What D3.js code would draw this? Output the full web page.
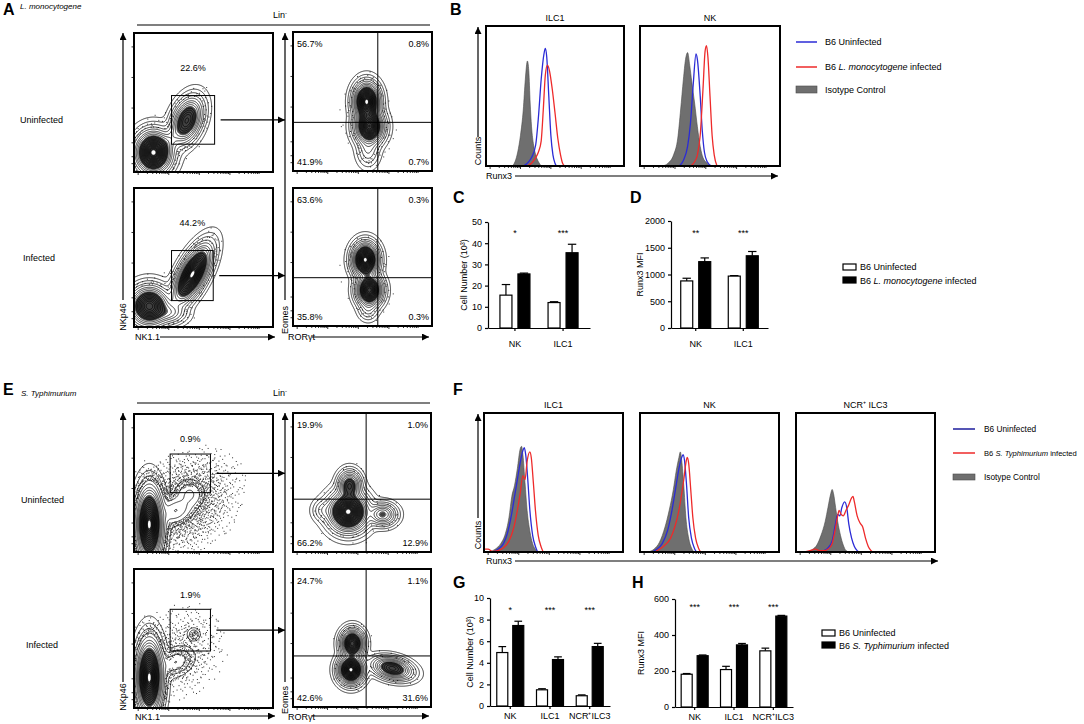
<!DOCTYPE html>
<html lang="en">
<head>
<meta charset="utf-8">
<title>Runx3 in ILC subsets after infection</title>
<script src="https://cdnjs.cloudflare.com/ajax/libs/d3/7.8.5/d3.min.js"></script>
<style>
  body {margin: 0; background: #fff;}
  svg {display: block; font-family: "Liberation Sans", Arial, sans-serif;}
</style>
</head>
<body>
<svg width="1084" height="724"></svg>
<script>
// ---------- data ----------
// flow populations: x/y in axis units (0-1), s = spread, r = correlation, w = relative weight
var aUninfNk = [{x:0.14,y:0.14,sx:0.065,sy:0.075,r:0,w:1},{x:0.38,y:0.37,sx:0.055,sy:0.08,r:0.35,w:0.6},{x:0.26,y:0.24,sx:0.04,sy:0.05,r:0.5,w:0.06}];
var aInfNk = [{x:0.11,y:0.15,sx:0.07,sy:0.07,r:0,w:0.8},{x:0.42,y:0.38,sx:0.065,sy:0.1,r:0.65,w:1},{x:0.26,y:0.1,sx:0.06,sy:0.04,r:0,w:0.15}];
var aUninfEomes = [{x:0.53,y:0.5,sx:0.045,sy:0.065,r:0,w:1},{x:0.55,y:0.32,sx:0.05,sy:0.06,r:0,w:0.9},{x:0.54,y:0.15,sx:0.04,sy:0.06,r:0,w:0.08}];
var aInfEomes = [{x:0.52,y:0.48,sx:0.045,sy:0.06,r:0,w:1},{x:0.55,y:0.26,sx:0.045,sy:0.055,r:0,w:0.9},{x:0.54,y:0.12,sx:0.035,sy:0.04,r:0,w:0.06}];
var eUninfNk = [{x:0.11,y:0.2,sx:0.045,sy:0.13,r:0,w:1},{x:0.3,y:0.3,sx:0.06,sy:0.05,r:0.3,w:0.05},{x:0.4,y:0.42,sx:0.05,sy:0.05,r:0,w:0.03}];
var eInfNk = [{x:0.11,y:0.22,sx:0.045,sy:0.13,r:0,w:1},{x:0.3,y:0.33,sx:0.06,sy:0.05,r:0.3,w:0.05},{x:0.43,y:0.53,sx:0.022,sy:0.022,r:0,w:0.03}];
var eUninfEomes = [{x:0.4,y:0.29,sx:0.07,sy:0.07,r:0,w:1},{x:0.41,y:0.48,sx:0.04,sy:0.05,r:0,w:0.45},{x:0.65,y:0.27,sx:0.05,sy:0.04,r:0,w:0.3},{x:0.22,y:0.3,sx:0.04,sy:0.04,r:0,w:0.06}];
var eInfEomes = [{x:0.43,y:0.46,sx:0.04,sy:0.05,r:0,w:0.8},{x:0.42,y:0.27,sx:0.045,sy:0.05,r:0,w:1},{x:0.72,y:0.28,sx:0.07,sy:0.04,r:-0.3,w:0.55}];
// sparse events (outliers)
var aCloud = [{x:0.3,y:0.28,sx:0.12,sy:0.12,r:0.5,w:0.01}];
var eomesCloud = [{x:0.52,y:0.36,sx:0.12,sy:0.16,r:0,w:0.008}];
var eUninfCloud = [{x:0.35,y:0.35,sx:0.18,sy:0.17,r:0.3,w:0.06}];
var eInfCloud = [{x:0.33,y:0.4,sx:0.15,sy:0.16,r:0.2,w:0.03}];

// gates [x0, x1, y0, y1] and percentages
var aUninfGate = [0.27, 0.58, 0.2, 0.55], aInfGate = [0.27, 0.57, 0.19, 0.55];
var eUninfGate = [0.26, 0.55, 0.43, 0.71], eInfGate = [0.26, 0.55, 0.41, 0.71];
var gatePct = ['22.6%', '44.2%', '0.9%', '1.9%'];
var quadA = [0.61, 0.35], quadE1 = [0.53, 0.38], quadE2 = [0.53, 0.37];
// quadrant % : [top-left, top-right, bottom-left, bottom-right]
var aUninfQuad = ['56.7%', '0.8%', '41.9%', '0.7%'];
var aInfQuad = ['63.6%', '0.3%', '35.8%', '0.3%'];
var eUninfQuad = ['19.9%', '1.0%', '66.2%', '12.9%'];
var eInfQuad = ['24.7%', '1.1%', '42.6%', '31.6%'];

// histograms: [Runx3 channel 0-100, % of max count]
var bIlc1Iso = [[19,0],[21,3],[23,10],[25,22],[27,40],[28.5,62],[30,75],[31,68],[32,45],[33,28],[34.5,15],[36,8],[38,3],[40,0]];
var bIlc1Uninf = [[27,0],[30,2],[33,6],[36,15],[38,35],[40,62],[42,80],[43,84],[44,78],[45.5,50],[47,22],[48.5,8],[50,2],[51,0]];
var bIlc1Inf = [[30,0],[33,2],[36,6],[38,10],[40,18],[41.5,40],[43,65],[44.5,72],[46,68],[48,55],[50,38],[52,20],[54,8],[55.5,2],[57,0]];
var bNkIso = [[16,0],[20,2],[24,8],[27,20],[29,40],[31,62],[32.5,76],[34,81],[35.5,72],[37,60],[39,45],[41,28],[43,14],[45,6],[48,2],[51,0]];
var bNkUninf = [[28,0],[31,4],[34,14],[36,30],[38,58],[40,80],[41,76],[43,50],[44.5,25],[46,10],[48,3],[51,0]];
var bNkInf = [[36,0],[39,3],[41,8],[43,22],[45,55],[46.5,82],[47.5,86],[48.5,78],[50,50],[51.5,22],[53,8],[55,0]];
var fIlc1Iso = [[4,0],[8,2],[12,6],[15,12],[18,25],[20,40],[22,48],[24,60],[26,74],[27,76],[28,70],[29.5,50],[31,30],[33,15],[35,6],[37,2],[39,0]];
var fIlc1Uninf = [[0,0],[6,0],[10,2],[14,6],[17,14],[20,28],[22,40],[24,52],[26,64],[28,73],[29,75],[30,70],[31.5,52],[33,30],[35,12],[37,4],[39,0],[100,0]];
var fIlc1Inf = [[0,2],[3,2],[6,0.5],[10,1],[14,3],[18,8],[21,16],[24,30],[26,42],[28,55],[29.5,52],[31,65],[33,72],[34,68],[35.5,50],[37,30],[39,12],[41,4],[43,0],[100,0]];
var fNkIso = [[6,0],[10,2],[14,7],[18,18],[21,30],[24,45],[26,58],[28,68],[29,72],[30,66],[31.5,48],[33,25],[35,10],[37,3],[39,0]];
var fNkUninf = [[0,0],[8,0],[12,2],[16,6],[20,16],[23,30],[26,48],[28,60],[30,68],[31,70],[32,66],[33.5,48],[35,25],[37,10],[39,3],[41,0],[100,0]];
var fNkInf = [[0,0],[10,0],[14,2],[18,5],[22,10],[25,18],[28,30],[30,42],[31.5,52],[33,64],[34,68],[35,64],[36.5,45],[38,25],[40,10],[42,3],[44,0],[100,0]];
var fIlc3Iso = [[8,0],[12,2],[15,5],[18,12],[21,22],[23,32],[25,42],[26,45],[27,42],[28.5,32],[30,22],[32,12],[34,5],[36,1],[38,0]];
var fIlc3Uninf = [[0,0],[16,0],[20,1],[23,3],[26,8],[28,18],[30,27],[31.5,26],[33,32],[35,36],[36.5,32],[38,20],[40,10],[42,4],[44,1],[46,0],[100,0]];
var fIlc3Inf = [[0,0],[6,0],[10,1],[14,2],[17,1],[20,1],[23,2],[26,6],[28,15],[30,26],[31,30],[32.5,27],[34,26],[36,30],[38,34],[40,39],[41,40],[42,36],[44,26],[46,21],[48,18],[50,10],[52,4],[54,1],[56,0],[100,0]];

// bar charts: per group [B6 uninfected, B6 infected]
var cdGroups = ['NK', 'ILC1'];
var cellNumC = [[15.5, 25.5], [12, 35.5]], cellNumCErr = [[5, 0.4], [0.4, 4]];
var mfiD = [[880, 1240], [970, 1350]], mfiDErr = [[50, 70], [10, 80]];
var sigC = ['*', '***'], sigD = ['**', '***'];
var ghGroups = ['NK', 'ILC1', 'NCR\u207AILC3'];
var cellNumG = [[4.95, 7.45], [1.5, 4.3], [0.95, 5.5]], cellNumGErr = [[0.55, 0.4], [0.1, 0.25], [0.08, 0.3]];
var mfiH = [[182, 285], [208, 345], [312, 505]], mfiHErr = [[4, 4], [18, 8], [15, 4]];
var sigG = ['*', '***', '***'], sigH = ['***', '***', '***'];

// ---------- drawing ----------
var BLUE = '#2b2bd6', RED = '#ee2a2a', GRAY = '#6f6f6f';
var svg = d3.select('svg');
svg.append('defs').append('marker').attr('id', 'head')
    .attr('viewBox', '0 0 10 10').attr('refX', 10).attr('refY', 5)
    .attr('markerUnits', 'userSpaceOnUse').attr('markerWidth', 9).attr('markerHeight', 7)
    .attr('orient', 'auto')
    .append('path').attr('d', 'M0,0L10,5L0,10Z').attr('fill', '#000');

function txt(x, y, s, size, anchor) {
    return svg.append('text').attr('x', x).attr('y', y).attr('font-size', size || 9)
        .attr('text-anchor', anchor || 'start').text(s);
}
function arrow(x1, y1, x2, y2, sw) {
    svg.append('line').attr('x1', x1).attr('y1', y1).attr('x2', x2).attr('y2', y2)
        .attr('stroke', '#000').attr('stroke-width', sw || 1.2).attr('marker-end', 'url(#head)');
}
function vtext(x, y, s) {
    svg.append('text').attr('transform', 'translate(' + x + ',' + y + ') rotate(-90)')
        .attr('font-size', 9).attr('text-anchor', 'middle').text(s);
}

function dens(blobs, fx, fy) {
    var v = 0;
    blobs.forEach(function(b) {
        var dx = (fx - b.x) / b.sx, dy = (fy - b.y) / b.sy;
        var q = (dx * dx - 2 * b.r * dx * dy + dy * dy) / (1 - b.r * b.r);
        v += b.w * Math.exp(-q / 2);
    });
    return v;
}
function halton(i, b) {
    var f = 1, r = 0;
    while (i > 0) { f /= b; r += f * (i % b); i = Math.floor(i / b); }
    return r;
}
// contour levels spaced evenly in radius (sigma units)
var radii = [3.4, 3.0, 2.7, 2.45, 2.25, 2.05, 1.9, 1.75, 1.62, 1.5, 1.38, 1.26, 1.15, 1.04, 0.94, 0.84, 0.74, 0.64, 0.54, 0.44, 0.34];
var levels = radii.map(function(r) { return Math.exp(-r * r / 2); });
var coreLevel = Math.exp(-1.6 * 1.6 / 2), holeLevel = Math.exp(-0.22 * 0.22 / 2);

function logTicks(g, w, h, left) {
    var x = d3.scaleLinear().domain([0, 1]).range([0, w]);
    var pos = [];
    [0.03, 0.25, 0.47, 0.69].forEach(function(d) {
        for (var m = 1; m < 10; m++) pos.push(d + Math.log10(m) * 0.22);
    });
    g.selectAll(null).data(pos.filter(function(p) { return p < 1; })).join('line')
        .attr('x1', function(d) { return x(d); }).attr('x2', function(d) { return x(d); })
        .attr('y1', h).attr('y2', function(d, i) { return h + (i % 9 === 0 ? 3 : 2); })
        .attr('stroke', '#000').attr('stroke-width', 0.8);
    if (left) {
        var y = d3.scaleLinear().domain([0, 1]).range([h, 0]);
        g.selectAll(null).data([0.06, 0.11, 0.21, 0.46, 0.68, 0.9]).join('line')
            .attr('x1', 0).attr('x2', -2.5)
            .attr('y1', function(d) { return y(d); }).attr('y2', function(d) { return y(d); })
            .attr('stroke', '#000').attr('stroke-width', 0.8);
    }
}

function flowPlot(x0, y0, w, h, blobs, cloud, nDots) {
    var g = svg.append('g').attr('transform', 'translate(' + x0 + ',' + y0 + ')');
    var sx = d3.scaleLinear().domain([0, 1]).range([0, w]);
    var sy = d3.scaleLinear().domain([0, 1]).range([h, 0]);
    var nx = Math.round(w), ny = Math.round(h);
    var vals = new Float64Array(nx * ny);
    for (var j = 0; j < ny; j++) {
        for (var i = 0; i < nx; i++) {
            vals[j * nx + i] = dens(blobs, sx.invert(i + 0.5), sy.invert(j + 0.5));
        }
    }
    var mx = d3.max(vals);
    // outlier events
    var dots = [];
    for (var k = 1; k <= nDots; k++) {
        var u = halton(k, 2), v = halton(k, 3), t = halton(k, 5);
        var p = (dens(blobs, u, v) + dens(cloud, u, v)) / mx;
        if (p > 0.002 && p < 0.06 && t < p * 22) dots.push([u, v]);
    }
    g.selectAll(null).data(dots).join('rect')
        .attr('x', function(d) { return sx(d[0]); }).attr('y', function(d) { return sy(d[1]); })
        .attr('width', 1).attr('height', 1).attr('fill', '#333');
    var contour = d3.contours().size([nx, ny]);
    var path = d3.geoPath();
    // dense core and its small empty centre
    g.append('path').attr('d', path(contour.contour(vals, coreLevel * mx))).attr('fill', '#111').attr('fill-opacity', 0.8);
    var cs = contour.thresholds(levels.map(function(l) { return l * mx; }))(vals);
    g.append('g').selectAll('path').data(cs).join('path')
        .attr('d', path).attr('fill', 'none').attr('stroke', '#000').attr('stroke-width', 0.75);
    g.append('path').attr('d', path(contour.contour(vals, holeLevel * mx))).attr('fill', '#fff');
    logTicks(g, w, h, true);
    g.append('rect').attr('width', w).attr('height', h).attr('fill', 'none')
        .attr('stroke', '#000').attr('stroke-width', 2);
    return {g: g, x: sx, y: sy, w: w, h: h};
}

function gatePlot(p, gate, pct, pctY, targetX) {
    p.g.append('rect').attr('x', p.x(gate[0])).attr('y', p.y(gate[3]))
        .attr('width', p.x(gate[1]) - p.x(gate[0])).attr('height', p.y(gate[2]) - p.y(gate[3]))
        .attr('fill', 'none').attr('stroke', '#000').attr('stroke-width', 1);
    p.g.append('text').attr('x', p.x((gate[0] + gate[1]) / 2)).attr('y', p.y(pctY))
        .attr('font-size', 9).attr('text-anchor', 'middle').text(pct);
    var t = p.g.node().transform.baseVal[0].matrix;
    var ay = t.f + p.y((gate[2] + gate[3]) / 2);
    arrow(t.e + p.x(gate[1]) + 6, ay, targetX, ay, 1.2);
}

function quadPlot(p, q, pcts) {
    p.g.append('line').attr('x1', p.x(q[0])).attr('x2', p.x(q[0])).attr('y1', 0).attr('y2', p.h)
        .attr('stroke', '#000').attr('stroke-width', 1);
    p.g.append('line').attr('x1', 0).attr('x2', p.w).attr('y1', p.y(q[1])).attr('y2', p.y(q[1]))
        .attr('stroke', '#000').attr('stroke-width', 1);
    var pos = [[4, 15, 'start'], [p.w - 3, 15, 'end'], [4, p.h - 6, 'start'], [p.w - 3, p.h - 6, 'end']];
    pcts.forEach(function(s, i) {
        p.g.append('text').attr('x', pos[i][0]).attr('y', pos[i][1]).attr('font-size', 9)
            .attr('text-anchor', pos[i][2]).text(s);
    });
}

function histPlot(x0, y0, w, h, title, iso, uninf, inf) {
    var g = svg.append('g').attr('transform', 'translate(' + x0 + ',' + y0 + ')');
    var x = d3.scaleLinear().domain([0, 100]).range([0, w]);
    var y = d3.scaleLinear().domain([0, 100]).range([h, 0]);
    var area = d3.area().x(function(d) { return x(d[0]); }).y0(h)
        .y1(function(d) { return y(d[1]); }).curve(d3.curveMonotoneX);
    var line = d3.line().x(function(d) { return x(d[0]); })
        .y(function(d) { return y(d[1]); }).curve(d3.curveMonotoneX);
    g.append('path').datum(iso).attr('d', area).attr('fill', GRAY)
        .attr('stroke', '#4a4a4a').attr('stroke-width', 0.6);
    g.append('path').datum(uninf).attr('d', line).attr('fill', 'none')
        .attr('stroke', BLUE).attr('stroke-width', 1.3);
    g.append('path').datum(inf).attr('d', line).attr('fill', 'none')
        .attr('stroke', RED).attr('stroke-width', 1.3);
    logTicks(g, w, h, false);
    g.append('rect').attr('width', w).attr('height', h).attr('fill', 'none')
        .attr('stroke', '#000').attr('stroke-width', 2);
    g.append('text').attr('x', w / 2).attr('y', -5).attr('font-size', 9)
        .attr('text-anchor', 'middle').text(title);
}

function barPanel(c) {
    var y = d3.scaleLinear().domain([0, c.max]).range([c.bottom, c.top]);
    var x = d3.scaleBand().domain(c.groups).range([c.left, c.right]).paddingInner(0).paddingOuter(c.outer);
    var x1 = d3.scaleBand().domain([0, 1]).range([-c.half, c.half]).paddingInner(c.gap);
    var g = svg.append('g');
    g.append('g').attr('transform', 'translate(' + c.left + ',0)')
        .call(d3.axisLeft(y).tickValues(c.ticks).tickFormat(d3.format('d')).tickSize(3).tickSizeOuter(0))
        .attr('font-size', 9).attr('font-family', null);
    g.append('g').attr('transform', 'translate(0,' + c.bottom + ')')
        .call(d3.axisBottom(x).tickSize(3).tickSizeOuter(0).tickPadding(c.pad))
        .attr('font-size', 9).attr('font-family', null);
    g.selectAll('.domain, .tick line').attr('stroke-width', 1.2);
    c.groups.forEach(function(grp, gi) {
        var cx = x(grp) + x.bandwidth() / 2;
        [0, 1].forEach(function(s) {
            var v = c.vals[gi][s], e = c.errs[gi][s];
            var bx = cx + x1(s), bw = x1.bandwidth();
            g.append('line').attr('x1', bx + bw / 2).attr('x2', bx + bw / 2)
                .attr('y1', y(v)).attr('y2', y(v + e)).attr('stroke', '#000').attr('stroke-width', 1.2);
            g.append('line').attr('x1', bx + bw * 0.15).attr('x2', bx + bw * 0.85)
                .attr('y1', y(v + e)).attr('y2', y(v + e)).attr('stroke', '#000').attr('stroke-width', 1.2);
            g.append('rect').attr('x', bx).attr('y', y(v)).attr('width', bw).attr('height', y(0) - y(v))
                .attr('fill', s ? '#000' : '#fff').attr('stroke', '#000').attr('stroke-width', 1.2);
        });
        g.append('text').attr('x', cx).attr('y', c.sigY).attr('font-size', 9)
            .attr('text-anchor', 'middle').text(c.sig[gi]);
    });
    vtext(c.labelX, (c.top + c.bottom) / 2, c.label);
}

function legendItalic(x, y, pre, it, post, size) {
    var t = txt(x, y, '', size || 9);
    t.append('tspan').text(pre);
    t.append('tspan').attr('font-style', 'italic').text(it);
    t.append('tspan').text(post);
}
function linTitle(y) {
    var t = txt(280, y, 'Lin', 9, 'middle');
    t.append('tspan').attr('font-size', 6).attr('dy', -3).text('-');
}

// ----- panel letters and titles
[['A', 3, 15], ['B', 450, 15], ['C', 453, 203], ['D', 630, 203],
 ['E', 3, 395], ['F', 453, 395], ['G', 453, 588], ['H', 632, 588]].forEach(function(d) {
    txt(d[1], d[2], d[0], 16).attr('font-weight', 'bold');
});
txt(20, 9, 'L. monocytogene', 8).attr('font-style', 'italic');
txt(21, 396, 'S. Typhimurium', 8).attr('font-style', 'italic');

// ----- panel A
linTitle(18);
svg.append('line').attr('x1', 137).attr('x2', 430).attr('y1', 25).attr('y2', 25).attr('stroke', '#000').attr('stroke-width', 1.2);
txt(20, 123, 'Uninfected');
txt(23, 261, 'Infected');
var pA1 = flowPlot(134, 33, 139, 139, aUninfNk, aCloud, 2500);
var pA2 = flowPlot(134, 188, 139, 139, aInfNk, aCloud, 2500);
var pA3 = flowPlot(293, 32, 139, 139, aUninfEomes, eomesCloud, 2500);
var pA4 = flowPlot(293, 188, 139, 138, aInfEomes, eomesCloud, 2000);
gatePlot(pA1, aUninfGate, gatePct[0], 0.73, 285);
gatePlot(pA2, aInfGate, gatePct[1], 0.73, 285);
quadPlot(pA3, quadA, aUninfQuad);
quadPlot(pA4, quadA, aInfQuad);
arrow(123, 300, 123, 33);
arrow(285, 300, 285, 33);
vtext(126, 317, 'NKp46');
vtext(288, 320, 'Eomes');
txt(135, 340, 'NK1.1');
arrow(160, 337, 275, 337);
txt(288, 340, 'ROR\u03B3t');
arrow(312, 337, 429, 337);

// ----- panel E
linTitle(396);
svg.append('line').attr('x1', 137).attr('x2', 430).attr('y1', 403).attr('y2', 403).attr('stroke', '#000').attr('stroke-width', 1.2);
txt(21, 503, 'Uninfected');
txt(26, 648, 'Infected');
var pE1 = flowPlot(134, 414, 139, 138, eUninfNk, eUninfCloud, 9000);
var pE2 = flowPlot(134, 569, 139, 139, eInfNk, eInfCloud, 7000);
var pE3 = flowPlot(293, 413, 138, 139, eUninfEomes, eomesCloud, 1500);
var pE4 = flowPlot(293, 569, 138, 138, eInfEomes, eomesCloud, 1500);
gatePlot(pE1, eUninfGate, gatePct[2], 0.8, 285);
gatePlot(pE2, eInfGate, gatePct[3], 0.79, 285);
quadPlot(pE3, quadE1, eUninfQuad);
quadPlot(pE4, quadE2, eInfQuad);
arrow(123, 682, 123, 413);
arrow(285, 682, 285, 413);
vtext(126, 697, 'NKp46');
vtext(288, 700, 'Eomes');
txt(135, 720, 'NK1.1');
arrow(160, 716, 275, 716);
txt(288, 720, 'ROR\u03B3t');
arrow(312, 716, 429, 716);

// ----- panel B
histPlot(486, 26, 138, 140, 'ILC1', bIlc1Iso, bIlc1Uninf, bIlc1Inf);
histPlot(640, 26, 140, 140, 'NK', bNkIso, bNkUninf, bNkInf);
arrow(478, 137, 478, 27);
vtext(481, 151, 'Counts');
txt(486, 179, 'Runx3');
arrow(515, 176, 778, 176);
svg.append('line').attr('x1', 796).attr('x2', 817).attr('y1', 42).attr('y2', 42).attr('stroke', BLUE).attr('stroke-width', 1.5);
txt(825, 45, 'B6 Uninfected');
svg.append('line').attr('x1', 796).attr('x2', 817).attr('y1', 67).attr('y2', 67).attr('stroke', RED).attr('stroke-width', 1.5);
legendItalic(825, 70, 'B6 ', 'L. monocytogene', ' infected');
svg.append('rect').attr('x', 796).attr('y', 86).attr('width', 21).attr('height', 7).attr('fill', GRAY).attr('stroke', '#4a4a4a').attr('stroke-width', 0.6);
txt(825, 93, 'Isotype Control');

// ----- panel F
histPlot(484, 413, 139, 139, 'ILC1', fIlc1Iso, fIlc1Uninf, fIlc1Inf);
histPlot(640, 413, 139, 139, 'NK', fNkIso, fNkUninf, fNkInf);
histPlot(796, 413, 139, 139, 'NCR\u207A ILC3', fIlc3Iso, fIlc3Uninf, fIlc3Inf);
arrow(478, 518, 478, 414);
vtext(481, 535, 'Counts');
txt(486, 564, 'Runx3');
arrow(515, 561, 938, 561);
svg.append('line').attr('x1', 953).attr('x2', 975).attr('y1', 429).attr('y2', 429).attr('stroke', '#1c1c9c').attr('stroke-width', 1.5);
txt(984, 432, 'B6 Uninfected', 8.3);
svg.append('line').attr('x1', 953).attr('x2', 975).attr('y1', 453).attr('y2', 453).attr('stroke', RED).attr('stroke-width', 1.5);
legendItalic(984, 456, 'B6 ', 'S. Typhimurium', ' infected', 7.6);
svg.append('rect').attr('x', 953).attr('y', 474).attr('width', 22).attr('height', 6).attr('fill', GRAY).attr('stroke', '#4a4a4a').attr('stroke-width', 0.6);
txt(984, 480, 'Isotype Control', 8.3);

// ----- panels C, D, G, H
barPanel({groups: cdGroups, vals: cellNumC, errs: cellNumCErr, sig: sigC, max: 50, ticks: [0, 10, 20, 30, 40, 50],
    top: 222, bottom: 328, left: 488, right: 590, outer: 0.06, half: 15, gap: 1 / 3, pad: 10,
    sigY: 236, label: 'Cell Number (10\u00B3)', labelX: 467});
barPanel({groups: cdGroups, vals: mfiD, errs: mfiDErr, sig: sigD, max: 2000, ticks: [0, 500, 1000, 1500, 2000],
    top: 221, bottom: 328, left: 671, right: 768, outer: 0.02, half: 15, gap: 1 / 3, pad: 10,
    sigY: 236, label: 'Runx3 MFI', labelX: 643});
barPanel({groups: ghGroups, vals: cellNumG, errs: cellNumGErr, sig: sigG, max: 10, ticks: [0, 2, 4, 6, 8, 10],
    top: 598, bottom: 706, left: 490, right: 610, outer: 0.01, half: 13.5, gap: 0.31, pad: 4,
    sigY: 613, label: 'Cell Number (10\u00B3)', labelX: 473});
barPanel({groups: ghGroups, vals: mfiH, errs: mfiHErr, sig: sigH, max: 600, ticks: [0, 200, 400, 600],
    top: 599, bottom: 707, left: 675, right: 793, outer: 0, half: 13.5, gap: 0.31, pad: 4,
    sigY: 610, label: 'Runx3 MFI', labelX: 644});

// bar legends
svg.append('rect').attr('x', 843).attr('y', 264).attr('width', 13).attr('height', 6).attr('fill', '#fff').attr('stroke', '#000').attr('stroke-width', 1.2);
txt(860, 270, 'B6 Uninfected');
svg.append('rect').attr('x', 843).attr('y', 277).attr('width', 13).attr('height', 6).attr('fill', '#000').attr('stroke', '#000').attr('stroke-width', 1.2);
legendItalic(860, 284, 'B6 ', 'L. monocytogene', ' infected');
svg.append('rect').attr('x', 822).attr('y', 630).attr('width', 13).attr('height', 6).attr('fill', '#fff').attr('stroke', '#000').attr('stroke-width', 1.2);
txt(839, 636, 'B6 Uninfected');
svg.append('rect').attr('x', 822).attr('y', 642).attr('width', 13).attr('height', 6).attr('fill', '#000').attr('stroke', '#000').attr('stroke-width', 1.2);
legendItalic(839, 649, 'B6 ', 'S. Typhimurium', ' infected');
</script>
</body>
</html>
